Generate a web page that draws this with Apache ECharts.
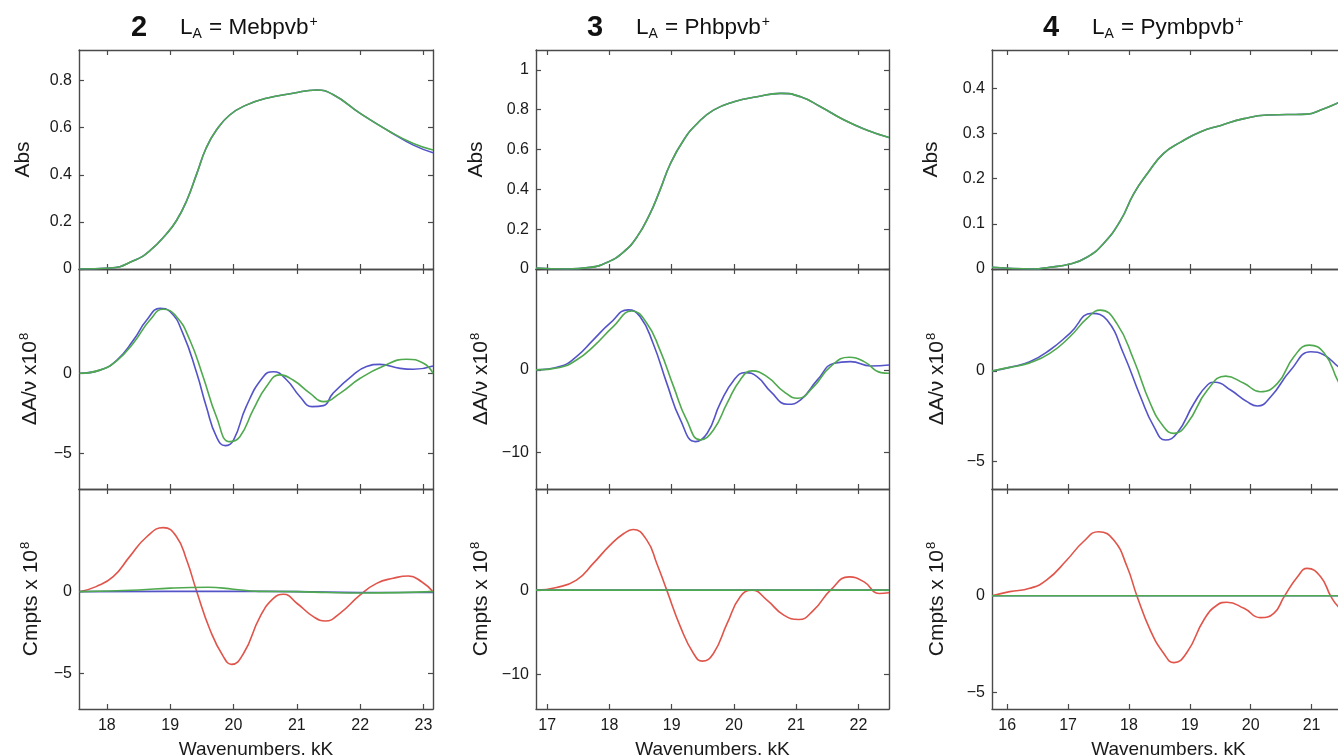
<!DOCTYPE html>
<html><head><meta charset="utf-8">
<script src="https://cdn.jsdelivr.net/npm/echarts@6/dist/echarts.min.js"></script>
<style>html,body{margin:0;padding:0;background:#fff}#c{width:1338px;height:755px}</style>
</head><body><div id="c"></div><script>
// ---------- DATA ----------
const titleNumbers = ['2', '3', '4'];
const titleLigands = ['Mebpvb', 'Phbpvb', 'Pymbpvb'];
const rowNames = ['Abs', 'ΔA/ν x10', 'Cmpts x 10'];
const xAxisName = 'Wavenumbers, kK';

const c1XRange = [17.56, 23.15];
const c2XRange = [16.82, 22.49];
const c3XRange = [15.75, 21.55];
const c1XTicks = [18, 19, 20, 21, 22, 23];
const c2XTicks = [17, 18, 19, 20, 21, 22];
const c3XTicks = [16, 17, 18, 19, 20, 21];

const c1YRanges = [[0, 0.93], [-7.23, 6.52], [-7.2, 6.3]];
const c2YRanges = [[0, 1.1], [-14.4, 12.2], [-14.1, 12.0]];
const c3YRanges = [[0, 0.485], [-6.51, 5.63], [-5.84, 5.5]];
const c1YTicks = [[0, 0.2, 0.4, 0.6, 0.8], [-5, 0], [-5, 0]];
const c2YTicks = [[0, 0.2, 0.4, 0.6, 0.8, 1], [-10, 0], [-10, 0]];
const c3YTicks = [[0, 0.1, 0.2, 0.3, 0.4], [-5, 0], [-5, 0]];

// Column 1 (2, Mebpvb+)
const c1AbsBlue = [[17.57,0],[18.05,0.004],[18.42,0.035],[18.68,0.078],[18.94,0.149],[19.1,0.206],[19.26,0.29],[19.42,0.405],[19.57,0.515],[19.73,0.59],[19.94,0.654],[20.2,0.696],[20.52,0.725],[20.94,0.746],[21.31,0.76],[21.57,0.741],[22.0,0.661],[22.47,0.583],[22.84,0.526],[23.15,0.494]];
const c1AbsGreen = [[17.57,0],[18.05,0.004],[18.42,0.035],[18.68,0.078],[18.94,0.149],[19.1,0.206],[19.26,0.29],[19.42,0.405],[19.57,0.515],[19.73,0.59],[19.94,0.654],[20.2,0.696],[20.52,0.725],[20.94,0.746],[21.31,0.76],[21.57,0.741],[22.0,0.661],[22.47,0.583],[22.84,0.533],[23.15,0.505]];
const c1DerivBlue = [[17.57,0],[17.89,0.2],[18.16,0.83],[18.42,2.08],[18.63,3.33],[18.84,4.06],[19.0,3.85],[19.2,2.5],[19.42,0],[19.57,-2.08],[19.73,-3.96],[19.87,-4.52],[20.0,-4.17],[20.2,-2.08],[20.47,-0.21],[20.63,0.1],[20.84,-0.42],[21.05,-1.46],[21.24,-2.08],[21.42,-2.02],[21.57,-1.25],[21.89,-0.1],[22.1,0.42],[22.31,0.56],[22.63,0.31],[22.84,0.25],[23.15,0.46]];
const c1DerivGreen = [[17.57,0],[17.89,0.2],[18.16,0.8],[18.42,1.9],[18.68,3.33],[18.89,4.0],[19.1,3.54],[19.31,2.08],[19.52,-0.21],[19.73,-2.71],[19.94,-4.27],[20.1,-3.96],[20.31,-2.29],[20.52,-0.83],[20.73,-0.1],[20.94,-0.42],[21.21,-1.25],[21.42,-1.77],[21.68,-1.25],[22.0,-0.31],[22.37,0.46],[22.73,0.88],[23.0,0.63],[23.15,0]];
const c1CmptRed = [[17.57,0],[17.83,0.31],[18.1,0.92],[18.36,2.15],[18.63,3.37],[18.89,3.93],[19.1,3.37],[19.26,1.94],[19.42,0],[19.63,-2.35],[19.84,-3.99],[19.97,-4.46],[20.16,-3.78],[20.42,-1.53],[20.63,-0.41],[20.79,-0.16],[21.0,-0.71],[21.26,-1.53],[21.45,-1.8],[21.68,-1.33],[22.0,-0.2],[22.26,0.51],[22.52,0.82],[22.76,0.96],[22.97,0.61],[23.15,0]];
const c1CmptGreen = [[17.57,0],[18.5,0.1],[19.0,0.22],[19.6,0.27],[20.0,0.15],[20.4,0.02],[21.0,0],[21.5,-0.05],[22.0,-0.08],[22.6,-0.06],[23.15,0]];
const c1CmptBlue = [[17.57,0],[19.0,0.02],[20.0,0.02],[21.0,0],[22.0,-0.05],[23.15,-0.05]];

// Column 2 (3, Phbpvb+)
const c2AbsBlue = [[16.82,0.005],[17.31,0],[17.69,0.008],[17.96,0.033],[18.22,0.084],[18.44,0.16],[18.65,0.277],[18.81,0.395],[18.98,0.53],[19.19,0.647],[19.41,0.731],[19.67,0.798],[20.0,0.84],[20.37,0.865],[20.75,0.882],[21.07,0.865],[21.39,0.815],[21.77,0.748],[22.14,0.697],[22.49,0.66]];
const c2AbsGreen = [[16.82,0.005],[17.31,0],[17.69,0.008],[17.96,0.033],[18.22,0.084],[18.44,0.16],[18.65,0.277],[18.81,0.395],[18.98,0.53],[19.19,0.647],[19.41,0.731],[19.67,0.798],[20.0,0.84],[20.37,0.865],[20.75,0.882],[21.07,0.865],[21.39,0.815],[21.77,0.748],[22.14,0.697],[22.49,0.66]];
const c2DerivBlue = [[16.82,0],[17.2,0.4],[17.47,1.6],[17.74,3.63],[18.01,5.65],[18.3,7.26],[18.49,6.45],[18.7,3.23],[18.92,-1.6],[19.14,-6.05],[19.38,-8.67],[19.57,-7.66],[19.78,-4.03],[20.0,-1.21],[20.18,-0.33],[20.37,-0.81],[20.59,-2.62],[20.86,-4.15],[21.07,-3.63],[21.34,-1.21],[21.61,0.81],[21.87,1.0],[22.2,0.48],[22.49,0.6]];
const c2DerivGreen = [[16.82,0],[17.2,0.3],[17.47,1.2],[17.74,2.82],[18.06,5.24],[18.36,7.13],[18.6,5.65],[18.81,2.42],[19.03,-2.02],[19.24,-6.05],[19.46,-8.46],[19.67,-7.26],[19.89,-4.03],[20.1,-1.21],[20.29,-0.12],[20.53,-0.81],[20.8,-2.62],[21.02,-3.43],[21.28,-2.02],[21.55,0.4],[21.85,1.53],[22.09,1.0],[22.36,-0.33],[22.49,-0.4]];
const c2CmptRed = [[16.82,0],[17.15,0.32],[17.47,1.19],[17.74,3.17],[18.01,5.34],[18.23,6.72],[18.38,7.2],[18.6,5.93],[18.76,3.17],[18.92,0],[19.14,-4.35],[19.35,-7.51],[19.49,-8.42],[19.67,-7.51],[19.89,-3.95],[20.1,-0.79],[20.29,0],[20.53,-1.19],[20.8,-2.97],[21.04,-3.48],[21.28,-2.37],[21.55,0],[21.85,1.58],[22.09,0.98],[22.33,-0.39],[22.49,-0.3]];
const c2CmptGreen = [[16.82,0],[18,0],[19,0],[20,0],[21,0],[22,0],[22.49,0]];
const c2CmptBlue = [[16.82,0],[18,0],[19,0],[20,0],[21,0],[22,0],[22.49,0]];

// Column 3 (4, Pymbpvb+)
const c3AbsBlue = [[15.75,0.004],[16.43,0],[16.7,0.004],[17.03,0.011],[17.31,0.026],[17.58,0.056],[17.86,0.107],[18.08,0.167],[18.3,0.211],[18.57,0.256],[18.85,0.281],[19.18,0.304],[19.51,0.318],[19.89,0.333],[20.27,0.341],[20.6,0.342],[20.93,0.343],[21.15,0.352],[21.44,0.368],[21.55,0.375]];
const c3AbsGreen = [[15.75,0.004],[16.43,0],[16.7,0.004],[17.03,0.011],[17.31,0.026],[17.58,0.056],[17.86,0.107],[18.08,0.167],[18.3,0.211],[18.57,0.256],[18.85,0.281],[19.18,0.304],[19.51,0.318],[19.89,0.333],[20.27,0.341],[20.6,0.342],[20.93,0.343],[21.15,0.352],[21.44,0.368],[21.55,0.375]];
const c3DerivBlue = [[15.75,0],[16.04,0.2],[16.37,0.51],[16.7,1.16],[17.03,2.08],[17.39,3.18],[17.64,2.81],[17.91,0.97],[18.19,-1.42],[18.41,-3.07],[18.6,-3.81],[18.79,-3.44],[19.07,-1.78],[19.29,-0.77],[19.42,-0.62],[19.67,-1.05],[19.94,-1.69],[20.11,-1.93],[20.33,-1.42],[20.66,0.06],[20.99,1.06],[21.21,0.88],[21.44,0.24],[21.55,0.0]];
const c3DerivGreen = [[15.75,0],[16.04,0.2],[16.37,0.45],[16.7,0.97],[17.03,1.89],[17.31,2.9],[17.53,3.36],[17.8,2.63],[18.08,0.61],[18.35,-1.78],[18.57,-3.07],[18.74,-3.44],[18.96,-2.88],[19.29,-1.05],[19.59,-0.28],[19.89,-0.68],[20.16,-1.14],[20.44,-0.68],[20.71,0.79],[20.96,1.43],[21.21,0.98],[21.44,-0.59],[21.55,-1.2]];
const c3CmptRed = [[15.75,0],[16.04,0.21],[16.37,0.38],[16.65,0.81],[16.98,1.84],[17.25,2.78],[17.5,3.3],[17.75,2.87],[17.97,1.49],[18.13,0],[18.35,-1.77],[18.57,-2.97],[18.74,-3.45],[18.96,-2.89],[19.23,-1.25],[19.45,-0.48],[19.61,-0.34],[19.89,-0.65],[20.16,-1.13],[20.38,-0.91],[20.55,-0.05],[20.77,0.98],[20.93,1.41],[21.15,0.98],[21.32,-0.05],[21.44,-0.57],[21.55,-0.8]];
const c3CmptGreen = [[15.75,0],[17,0],[18,0],[19,0],[20,0],[21,0],[21.55,0]];
const c3CmptBlue = [[15.75,0],[17,0],[18,0],[19,0],[20,0],[21,0],[21.55,0]];

// ---------- LAYOUT / STYLE ----------
const FONT = 'Liberation Sans, Arial, Helvetica, sans-serif';
const AXC = '#4a4a4a';
const TXT = '#1a1a1a';
const BLUE = '#5454c8', GREEN = '#4fa94f', RED = '#e0544a';
const colLeft = [79, 536, 992];
const colWidth = [354, 353, 353];
const rowTop = [50, 269, 489];
const rowHeight = [219, 220, 220];
const titleLeft = [131, 587, 1043];

const columns = [
  {xr: c1XRange, xt: c1XTicks, yr: c1YRanges, yt: c1YTicks,
   series: [[[c1AbsBlue, BLUE], [c1AbsGreen, GREEN]], [[c1DerivBlue, BLUE], [c1DerivGreen, GREEN]], [[c1CmptRed, RED], [c1CmptBlue, BLUE], [c1CmptGreen, GREEN]]]},
  {xr: c2XRange, xt: c2XTicks, yr: c2YRanges, yt: c2YTicks,
   series: [[[c2AbsBlue, BLUE], [c2AbsGreen, GREEN]], [[c2DerivBlue, BLUE], [c2DerivGreen, GREEN]], [[c2CmptRed, RED], [c2CmptBlue, BLUE], [c2CmptGreen, GREEN]]]},
  {xr: c3XRange, xt: c3XTicks, yr: c3YRanges, yt: c3YTicks,
   series: [[[c3AbsBlue, BLUE], [c3AbsGreen, GREEN]], [[c3DerivBlue, BLUE], [c3DerivGreen, GREEN]], [[c3CmptRed, RED], [c3CmptBlue, BLUE], [c3CmptGreen, GREEN]]]}
];

const fmt = v => v < 0 ? '\u2212' + Math.abs(v) : String(v);
const grid = [], xAxis = [], yAxis = [], series = [], title = [];
const nameGaps = [[44, 37, 36], [48, 43, 43], [49, 43, 43]];

columns.forEach((col, c) => {
  title.push({
    left: titleLeft[c], top: 11, padding: 0,
    text: '{n|' + titleNumbers[c] + '}{t|L}{s|A}{t| = ' + titleLigands[c] + '}{p|+}',
    textStyle: {
      fontFamily: FONT, fontWeight: 'normal',
      rich: {
        n: {fontSize: 29, fontWeight: 'bold', color: '#111', width: 49, lineHeight: 34, fontFamily: FONT},
        t: {fontSize: 22.5, fontWeight: 'normal', color: '#111', lineHeight: 34, fontFamily: FONT},
        s: {fontSize: 14, fontWeight: 'normal', color: '#111', lineHeight: 16, padding: [13, 1, 0, 0], fontFamily: FONT},
        p: {fontSize: 14, fontWeight: 'normal', color: '#111', lineHeight: 16, padding: [0, 0, 11, 1], fontFamily: FONT}
      }
    }
  });
  for (let r = 0; r < 3; r++) {
    const gi = c * 3 + r;
    grid.push({left: colLeft[c], top: rowTop[r], width: colWidth[c], height: rowHeight[r], containLabel: false, outerBoundsMode: 'none'});
    const lineStyle = {color: AXC, width: 1.4};
    const tickCommon = {show: true, inside: true, length: 5, lineStyle: {color: AXC, width: 1.2}};
    const xBase = {
      type: 'value', gridIndex: gi, min: col.xr[0], max: col.xr[1],
      axisLine: {show: true, onZero: false, lineStyle},
      splitLine: {show: false},
      axisTick: Object.assign({customValues: col.xt}, tickCommon)
    };
    xAxis.push(Object.assign({}, xBase, {
      position: 'bottom',
      axisLabel: {show: r === 2, customValues: col.xt, margin: 9, fontSize: 16, color: TXT, fontFamily: FONT},
      name: r === 2 ? xAxisName : '', nameLocation: 'middle', nameGap: 31,
      nameTextStyle: {fontSize: 19, color: TXT, fontFamily: FONT}
    }));
    xAxis.push(Object.assign({}, xBase, {position: 'top', axisLabel: {show: false}}));
    const yBase = {
      type: 'value', gridIndex: gi, min: col.yr[r][0], max: col.yr[r][1],
      axisLine: {show: true, onZero: false, lineStyle},
      splitLine: {show: false},
      axisTick: Object.assign({customValues: col.yt[r]}, tickCommon)
    };
    const nm = r === 0 ? '{m|' + rowNames[0] + '}' : '{m|' + rowNames[r] + '}{s|8}';
    yAxis.push(Object.assign({}, yBase, {
      position: 'left',
      axisLabel: {show: true, customValues: col.yt[r], margin: 7, fontSize: 16, color: TXT, fontFamily: FONT, formatter: fmt},
      name: nm, nameLocation: 'middle', nameGap: nameGaps[c][r], nameRotate: 90,
      nameTextStyle: {fontSize: 21, color: TXT, fontFamily: FONT,
        rich: {m: {fontSize: 21, color: TXT, fontFamily: FONT, lineHeight: 24},
               s: {fontSize: 13, color: TXT, fontFamily: FONT, lineHeight: 14, padding: [0, 0, 11, 1]}}}
    }));
    yAxis.push(Object.assign({}, yBase, {position: 'right', axisLabel: {show: false}}));
    col.series[r].forEach(([data, color]) => {
      series.push({
        type: 'line', xAxisIndex: gi * 2, yAxisIndex: gi * 2, data,
        showSymbol: false, smooth: 0.5, silent: true, clip: true,
        lineStyle: {color, width: 1.6}
      });
    });
  }
});

const chart = echarts.init(document.getElementById('c'), null, {renderer: 'canvas'});
chart.setOption({animation: false, backgroundColor: '#fff', title, grid, xAxis, yAxis, series, tooltip: {show: false}});
</script></body></html>
